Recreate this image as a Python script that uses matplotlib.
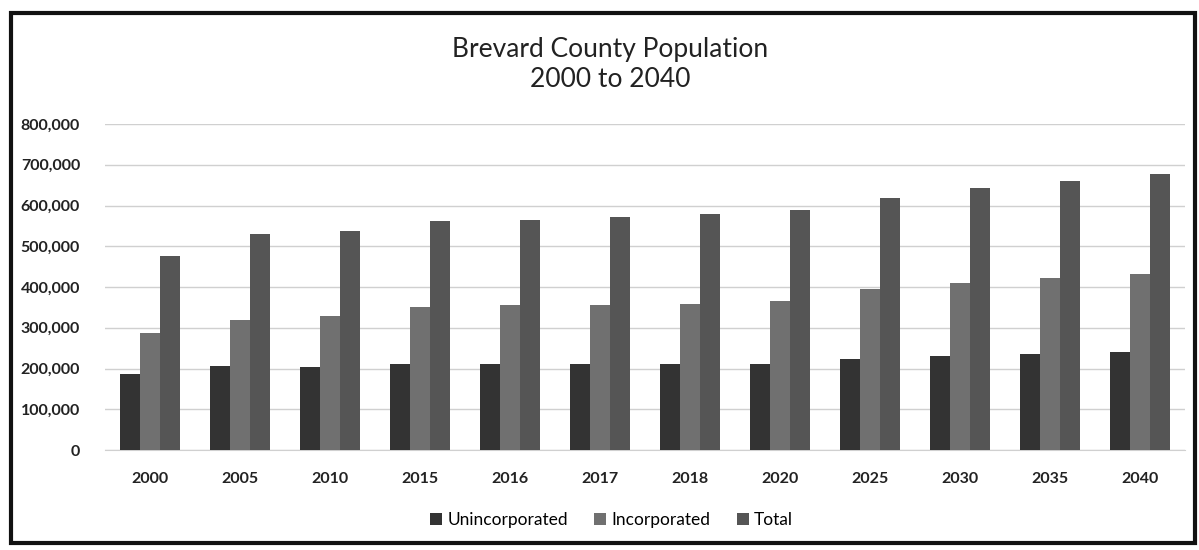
import matplotlib.pyplot as plt
import matplotlib.patches as mpatches
from matplotlib.ticker import FuncFormatter
import numpy as np

#-- data
years = ['2000', '2005', '2010', '2015', '2016', '2017', '2018', '2020',
         '2025', '2030', '2035', '2040']
unincorporated = [187000, 207000, 204000, 210000, 211000, 211000, 212000, 211000,
                  223000, 230000, 235000, 240000]
incorporated = [286000, 318000, 330000, 350000, 355000, 357000, 359000, 366000,
                395000, 411000, 422000, 432000]
total = [475000, 529000, 538000, 561000, 565000, 571000, 578000, 588000,
         619000, 644000, 660000, 678000]

plt.rcParams['font.family'] = ['Lato', 'DejaVu Sans']

fig = plt.figure(figsize=(11.99, 5.5), dpi=100)
ax = fig.add_axes([0.0876, 0.1818, 0.9008, 0.5927])

x = np.arange(len(years))
w = 0.222
ax.bar(x - w, unincorporated, w, color='#333333', label='Unincorporated', zorder=3)
ax.bar(x, incorporated, w, color='#707070', label='Incorporated', zorder=3)
ax.bar(x + w, total, w, color='#555555', label='Total', zorder=3)

ax.set_xlim(-0.5, len(years) - 0.5)
ax.set_ylim(0, 800000)
ax.set_yticks(np.arange(0, 800001, 100000))
ax.yaxis.set_major_formatter(FuncFormatter(lambda v, p: f'{int(v):,}'))
ax.set_xticks(x)
ax.set_xticklabels(years)
ax.tick_params(axis='both', length=0, labelsize=11.5)
ax.tick_params(axis='y', pad=18)
ax.tick_params(axis='x', pad=16)
for lab in ax.get_xticklabels() + ax.get_yticklabels():
    lab.set_fontweight('bold')
    lab.set_color('#222222')

ax.grid(axis='y', color='#d0d0d0', linewidth=1.0, zorder=0)
for s in ['top', 'right', 'left']:
    ax.spines[s].set_visible(False)
ax.spines['bottom'].set_color('#d0d0d0')

#-- title
fig.text(0.509, 0.882, 'Brevard County Population\n2000 to 2040', ha='center', va='center',
         fontsize=19, color='#222222', linespacing=1.25)

#-- legend
fig.legend(loc='center', bbox_to_anchor=(0.51, 0.055), ncol=3, frameon=False,
           fontsize=12.5, handlelength=0.7, handleheight=0.7, handletextpad=0.3,
           columnspacing=1.5)

#-- outer frame
fig.patches.append(mpatches.Rectangle((0.009, 0.012), 0.988, 0.965, transform=fig.transFigure,
                                      fill=False, edgecolor='#111111', linewidth=3))

fig.savefig('out.png', dpi=100)
